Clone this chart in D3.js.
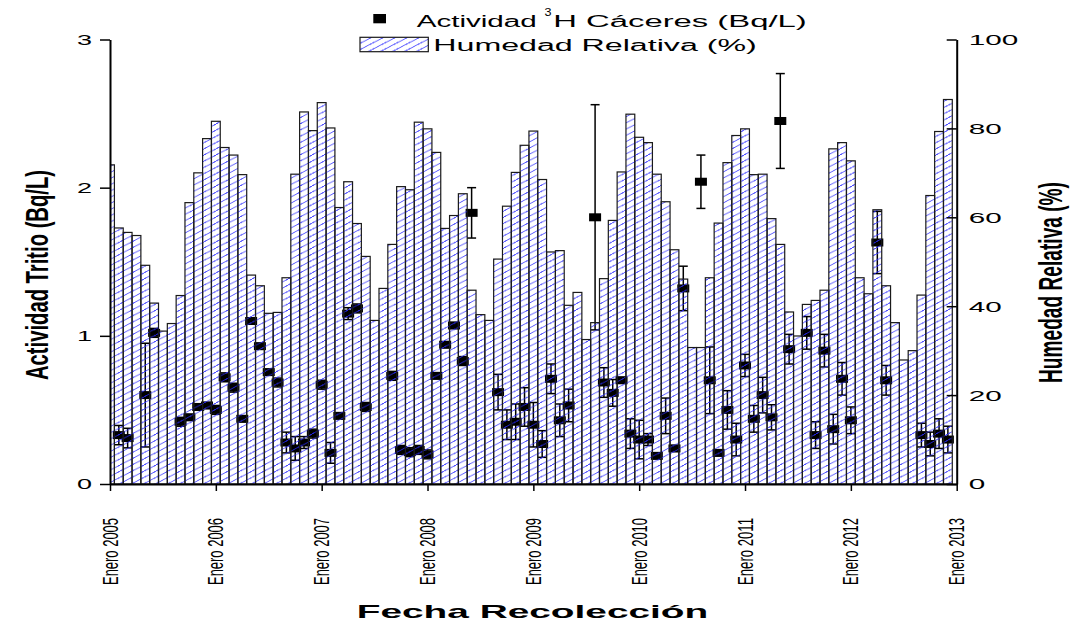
<!DOCTYPE html>
<html>
<head>
<meta charset="utf-8">
<script src="https://cdn.jsdelivr.net/npm/d3@7"></script>
<style>
  body { margin: 0; background: #fff; }
  svg { display: block; }
  text { font-family: "Liberation Sans", Arial, Helvetica, sans-serif; }
</style>
</head>
<body>
<svg id="chart" width="1076" height="624"></svg>
<script>
// Monthly series, January 2005 to December 2012
const nMonths = 96;
const yearLabels = ["Enero 2005", "Enero 2006", "Enero 2007", "Enero 2008", "Enero 2009",
                    "Enero 2010", "Enero 2011", "Enero 2012", "Enero 2013"];

// Relative humidity (%), one value per month
const humidity = [
  71.8, 57.6, 56.6, 55.9, 49.2, 40.7, 34.4, 36.1, 42.4, 63.3, 70.0, 77.7,
  81.6, 75.7, 74.0, 69.6, 47.0, 44.6, 38.4, 38.6, 46.4, 69.7, 83.7, 79.5,
  85.8, 80.1, 62.2, 68.0, 58.6, 51.2, 36.8, 44.0, 53.9, 66.9, 66.2, 81.4,
  79.9, 74.6, 57.5, 60.4, 65.3, 43.6, 38.1, 36.8, 50.6, 62.5, 70.1, 76.2,
  79.4, 68.5, 52.2, 52.5, 40.2, 43.1, 32.5, 36.3, 46.2, 59.3, 70.2, 83.2,
  78.0, 76.8, 69.7, 63.5, 52.7, 46.1, 30.7, 30.7, 46.4, 58.7, 72.3, 78.4,
  79.9, 69.6, 69.7, 59.7, 53.9, 38.7, 33.3, 40.4, 41.3, 43.6, 75.4, 76.8,
  72.7, 46.4, 42.8, 61.7, 44.6, 36.3, 27.9, 30.0, 42.5, 64.9, 79.3, 86.5
];

// Tritium activity in Cáceres (Bq/L); null where no sample was measured
const tritium = [
  null, 0.33, 0.31, null, 0.60, 1.02, null, null, 0.42, 0.45, 0.52, 0.53,
  0.50, 0.72, 0.65, 0.44, 1.10, 0.93, 0.755, 0.685, 0.28, 0.24, 0.28, 0.34,
  0.67, 0.21, 0.46, 1.15, 1.185, 0.52, null, null, 0.73, 0.23, 0.215, 0.23,
  0.20, 0.73, 0.94, 1.07, 0.83, 1.83, null, null, 0.62, 0.40, 0.42, 0.52,
  0.40, 0.27, 0.71, 0.43, 0.53, null, null, 1.80, 0.685, 0.615, 0.70, 0.34,
  0.30, 0.30, 0.19, 0.46, 0.24, 1.32, null, 2.04, 0.70, 0.21, 0.50, 0.30,
  0.80, 0.44, 0.60, 0.45, 2.45, 0.91, null, 1.02, 0.33, 0.90, 0.37, 0.71,
  0.43, null, null, 1.63, 0.70, null, null, null, 0.33, 0.27, 0.34, 0.30
];

// Measurement uncertainty (± Bq/L)
const tritiumErr = [
  null, 0.065, 0.066, null, 0.35, 0.03, null, null, 0.03, 0.02, 0.02, 0.02,
  0.03, 0.03, 0.03, 0.02, 0.02, 0.02, 0.02, 0.03, 0.07, 0.08, 0.04, 0.03,
  0.03, 0.07, 0.02, 0.04, 0.03, 0.03, null, null, 0.03, 0.03, 0.03, 0.03,
  0.03, 0.02, 0.02, 0.02, 0.03, 0.17, null, null, 0.12, 0.10, 0.12, 0.13,
  0.15, 0.09, 0.10, 0.11, 0.11, null, null, 0.76, 0.10, 0.09, 0.02, 0.10,
  0.13, 0.04, 0.02, 0.12, 0.02, 0.15, null, 0.18, 0.225, 0.02, 0.13, 0.11,
  0.075, 0.09, 0.12, 0.085, 0.32, 0.10, null, 0.11, 0.09, 0.11, 0.10, 0.11,
  0.09, null, null, 0.21, 0.10, null, null, null, 0.08, 0.08, 0.10, 0.09
];

const leftTicks = [0, 1, 2, 3];
const rightTicks = [0, 20, 40, 60, 80, 100];

const svg = d3.select("#chart");
const plot = { left: 110, right: 956.7, top: 39.5, bottom: 484 };

const x = d3.scaleLinear().domain([0, nMonths]).range([plot.left, plot.right]);
const yL = d3.scaleLinear().domain([0, 3]).range([plot.bottom, plot.top]);
const yR = d3.scaleLinear().domain([0, 100]).range([plot.bottom, plot.top]);
const monthW = x(1) - x(0);

const defs = svg.append("defs");
const pat = defs.append("pattern")
  .attr("id", "hatch").attr("patternUnits", "userSpaceOnUse")
  .attr("width", 12).attr("height", 6.2);
pat.append("path")
  .attr("d", "M0,6.2 L12,0 M-2,7.23 L2,5.17 M10,1.03 L14,-1.03")
  .attr("stroke", "#2a2aff").attr("stroke-width", 0.8).attr("fill", "none");
defs.append("clipPath").attr("id", "plotClip")
  .append("rect")
  .attr("x", plot.left).attr("y", 0)
  .attr("width", plot.right - plot.left).attr("height", plot.bottom);

// Tritium points with error bars (drawn beneath the hatched bars)
const pts = d3.range(nMonths).filter(i => tritium[i] != null)
  .map(i => ({ i, v: tritium[i], e: tritiumErr[i] }));
const gPts = svg.append("g");
const eb = gPts.selectAll("g.err").data(pts).join("g").attr("class", "err")
  .attr("stroke", "#000").attr("stroke-width", 1.5);
eb.append("line")
  .attr("x1", d => x(d.i)).attr("x2", d => x(d.i))
  .attr("y1", d => yL(d.v - d.e)).attr("y2", d => yL(d.v + d.e));
eb.append("line")
  .attr("x1", d => x(d.i) - 4.5).attr("x2", d => x(d.i) + 4.5)
  .attr("y1", d => yL(d.v + d.e)).attr("y2", d => yL(d.v + d.e));
eb.append("line")
  .attr("x1", d => x(d.i) - 4.5).attr("x2", d => x(d.i) + 4.5)
  .attr("y1", d => yL(d.v - d.e)).attr("y2", d => yL(d.v - d.e));
gPts.selectAll("rect.pt").data(pts).join("rect").attr("class", "pt")
  .attr("x", d => x(d.i) - 6).attr("y", d => yL(d.v) - 4)
  .attr("width", 12).attr("height", 8).attr("fill", "#000");

// Relative humidity bars, one per month, centred on the month position
svg.append("g").attr("clip-path", "url(#plotClip)")
  .selectAll("rect").data(humidity).join("rect")
  .attr("x", (d, i) => x(i) - monthW / 2)
  .attr("y", d => yR(d))
  .attr("width", monthW)
  .attr("height", d => yR(0) - yR(d))
  .attr("fill", "url(#hatch)")
  .attr("stroke", "#1a1a1a").attr("stroke-width", 1.2);

// Axes
function styleAxis(g) {
  g.select(".domain").attr("stroke", "#000").attr("stroke-width", 2);
  g.selectAll(".tick line").attr("stroke", "#000").attr("stroke-width", 1.5);
}

const gl = svg.append("g").attr("transform", `translate(${plot.left},0)`);
gl.call(d3.axisLeft(yL).tickValues([0.5, 1.5, 2.5]).tickSize(5).tickSizeOuter(0).tickFormat(""));
gl.call(d3.axisLeft(yL).tickValues(leftTicks).tickSize(10).tickSizeOuter(0).tickPadding(8).tickFormat(d3.format("d")));
styleAxis(gl);
gl.selectAll(".tick text").attr("font-size", 15.5).attr("fill", "#000")
  .attr("textLength", 15).attr("lengthAdjust", "spacingAndGlyphs")
  .attr("font-family", "Liberation Sans, Arial, sans-serif");

const gr = svg.append("g").attr("transform", `translate(${plot.right},0)`);
gr.call(d3.axisRight(yR).tickValues([10, 30, 50, 70, 90]).tickSize(-5).tickSizeOuter(0).tickFormat(""));
gr.call(d3.axisRight(yR).tickValues(rightTicks).tickSize(-10).tickSizeOuter(0).tickPadding(12).tickFormat(d3.format("d")));
styleAxis(gr);
gr.selectAll(".tick text").attr("font-size", 15.5).attr("fill", "#000")
  .attr("textLength", d => 16.5 * String(d).length).attr("lengthAdjust", "spacingAndGlyphs")
  .attr("font-family", "Liberation Sans, Arial, sans-serif");

const gb = svg.append("g").attr("transform", `translate(0,${plot.bottom})`);
gb.call(d3.axisBottom(x).tickValues(d3.range(0, nMonths + 1, 2)).tickSize(3.5).tickSizeOuter(0).tickFormat(""));
gb.call(d3.axisBottom(x).tickValues(d3.range(0, nMonths + 1, 12)).tickSize(7).tickSizeOuter(0).tickFormat(""));
styleAxis(gb);

// Year labels, rotated
svg.append("g").selectAll("text").data(yearLabels).join("text")
  .attr("transform", (d, k) => `translate(${x(k * 12) + 7.5},518) rotate(-90)`)
  .attr("text-anchor", "end").attr("font-size", 22)
  .attr("textLength", 67).attr("lengthAdjust", "spacingAndGlyphs")
  .text(d => d);

// Axis titles
svg.append("text")
  .attr("transform", "translate(48.3,275) rotate(-90)")
  .attr("text-anchor", "middle").attr("font-size", 32).attr("font-weight", "bold")
  .attr("textLength", 210).attr("lengthAdjust", "spacingAndGlyphs")
  .text("Actividad Tritio (Bq/L)");
svg.append("text")
  .attr("transform", "translate(1061.5,282.5) rotate(-90)")
  .attr("text-anchor", "middle").attr("font-size", 34).attr("font-weight", "bold")
  .attr("textLength", 201).attr("lengthAdjust", "spacingAndGlyphs")
  .text("Humedad Relativa (%)");
svg.append("text")
  .attr("x", 356.7).attr("y", 618.3)
  .attr("font-size", 18.5).attr("font-weight", "bold")
  .attr("textLength", 351.6).attr("lengthAdjust", "spacingAndGlyphs")
  .text("Fecha Recolección");

// Legend
const lg = svg.append("g");
lg.append("rect").attr("x", 373.3).attr("y", 14).attr("width", 12.7).attr("height", 9.3).attr("fill", "#000");
lg.append("text").attr("x", 416.7).attr("y", 26.7).attr("font-size", 16)
  .attr("textLength", 120).attr("lengthAdjust", "spacingAndGlyphs").text("Actividad");
lg.append("text").attr("x", 544.5).attr("y", 16).attr("font-size", 10.5)
  .attr("textLength", 7).attr("lengthAdjust", "spacingAndGlyphs").text("3");
lg.append("text").attr("x", 553.3).attr("y", 26.7).attr("font-size", 16)
  .attr("textLength", 253.4).attr("lengthAdjust", "spacingAndGlyphs").text("H Cáceres (Bq/L)");
lg.append("rect").attr("x", 360).attr("y", 37.3).attr("width", 68.3).attr("height", 14.4)
  .attr("fill", "url(#hatch)").attr("stroke", "#1a1a1a").attr("stroke-width", 1.2);
lg.append("text").attr("x", 433.3).attr("y", 51).attr("font-size", 16)
  .attr("textLength", 323.4).attr("lengthAdjust", "spacingAndGlyphs").text("Humedad Relativa (%)");
</script>
</body>
</html>
